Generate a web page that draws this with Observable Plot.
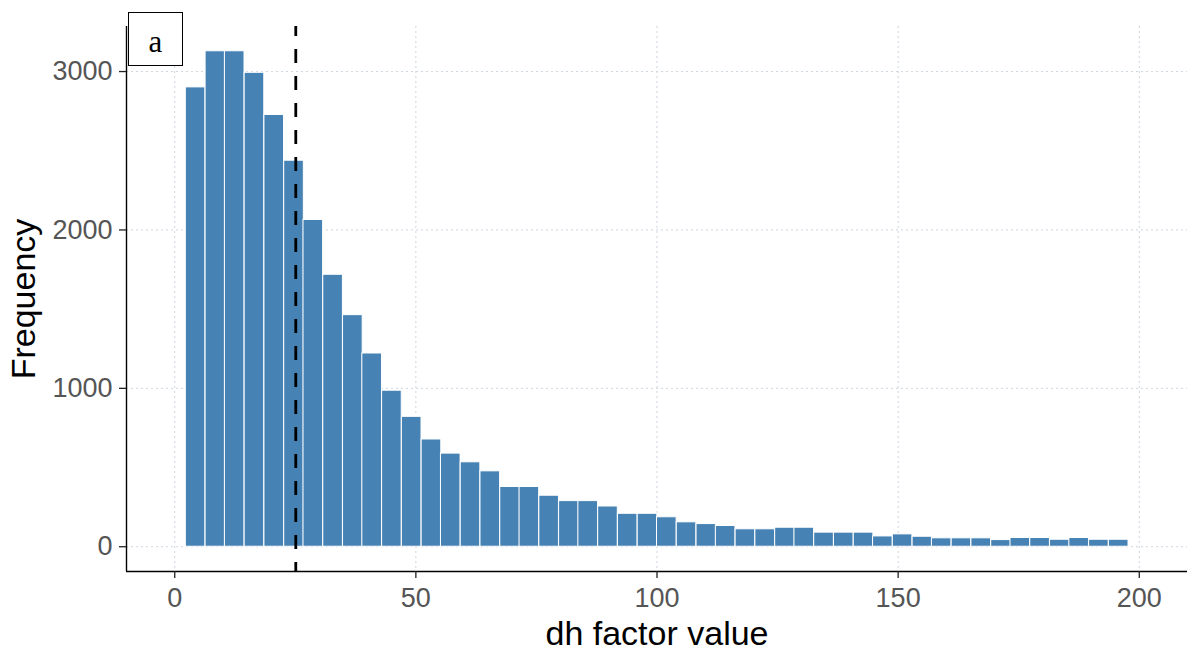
<!DOCTYPE html>
<html>
<head>
<meta charset="utf-8">
<script src="https://cdn.jsdelivr.net/npm/d3@7"></script>
<script src="https://cdn.jsdelivr.net/npm/@observablehq/plot@0.6"></script>
<style>
  html, body { margin: 0; padding: 0; background: #fff; }
  #wrap { position: relative; width: 1187px; height: 657px; overflow: hidden; }
  #tag {
    position: absolute; left: 128px; top: 12px; width: 55px; height: 54px;
    box-sizing: border-box; border: 1.5px solid #000; background: #fff;
    font-family: "Liberation Serif", "DejaVu Serif", serif; font-size: 31px;
    line-height: 1; text-align: center; padding-top: 13px;
  }
</style>
</head>
<body>
<div id="wrap"><div id="tag">a</div></div>
<script>
// Histogram bins (left edges of each bin, dh factor value)
const binStart = [2.3, 6.4, 10.4, 14.5, 18.6, 22.7, 26.7, 30.8, 34.9, 38.9, 43.0, 47.1,
  51.2, 55.2, 59.3, 63.4, 67.5, 71.5, 75.6, 79.7, 83.7, 87.8, 91.9, 96.0,
  100.0, 104.1, 108.2, 112.2, 116.3, 120.4, 124.5, 128.5, 132.6, 136.7, 140.8, 144.8,
  148.9, 153.0, 157.0, 161.1, 165.2, 169.3, 173.3, 177.4, 181.5, 185.5, 189.6, 193.7];
const binWidth = 4.07;
// Frequency per bin
const counts = [2900, 3128, 3128, 2992, 2726, 2437, 2063, 1717, 1462, 1220, 985, 820,
  677, 588, 533, 476, 377, 377, 322, 288, 288, 254, 208, 208,
  186, 154, 143, 131, 110, 110, 120, 120, 89, 89, 89, 65,
  78, 63, 53, 53, 53, 42, 55, 55, 44, 55, 44, 44];
// Dashed reference line
const threshold = 25.1;
// Axis ticks and limits
const xTicks = [0, 50, 100, 150, 200];
const yTicks = [0, 1000, 2000, 3000];
const xLimits = [0, 200];
const xLabel = "dh factor value";
const yLabel = "Frequency";

const bins = binStart.map((s, i) => ({x1: s, x2: s + binWidth, count: counts[i]}));

const xr = xLimits[1] - xLimits[0];
const xDomain = [xLimits[0] - 0.05 * xr, xLimits[1] + 0.05 * xr];
const ymax = d3.max(counts);
const yDomain = [-0.05 * ymax, ymax * 1.05];

const gridStyle = {stroke: "#cdd5df", strokeOpacity: 1, strokeWidth: 1, strokeDasharray: "2,3"};

const chart = Plot.plot({
  width: 1187,
  height: 657,
  marginLeft: 126,
  marginRight: 0,
  marginTop: 26,
  marginBottom: 86,
  style: {fontFamily: "'Liberation Sans', Arial, sans-serif", background: "#fff"},
  x: {domain: xDomain},
  y: {domain: yDomain},
  marks: [
    Plot.gridX(xTicks, gridStyle),
    Plot.gridY(yTicks, gridStyle),
    Plot.rectY(bins, {x1: "x1", x2: "x2", y: "count", fill: "#4682B4", stroke: "#ffffff", strokeWidth: 1}),
    Plot.ruleX([threshold], {stroke: "#000", strokeWidth: 2.8, strokeDasharray: "14,13", strokeDashoffset: 4}),
    Plot.ruleX([xDomain[0]], {stroke: "#000", strokeWidth: 1.4}),
    Plot.ruleY([yDomain[0]], {stroke: "#000", strokeWidth: 1.4}),
    Plot.axisX(xTicks, {tickSize: 7, tickPadding: 9, fontSize: 27, fill: "#555", stroke: "#222", strokeWidth: 1.3, label: null}),
    Plot.axisY(yTicks, {tickSize: 7, tickPadding: 7, fontSize: 27, fill: "#555", stroke: "#222", strokeWidth: 1.3, label: null, tickFormat: d => String(d)}),
    Plot.text([xLabel], {frameAnchor: "bottom", lineAnchor: "top", dy: 49, fontSize: 34, fill: "#000"}),
    Plot.text([yLabel], {frameAnchor: "left", textAnchor: "middle", rotate: -90, dx: -102, fontSize: 34, fill: "#000"})
  ]
});
document.getElementById("wrap").insertBefore(chart, document.getElementById("tag"));
</script>
</body>
</html>
